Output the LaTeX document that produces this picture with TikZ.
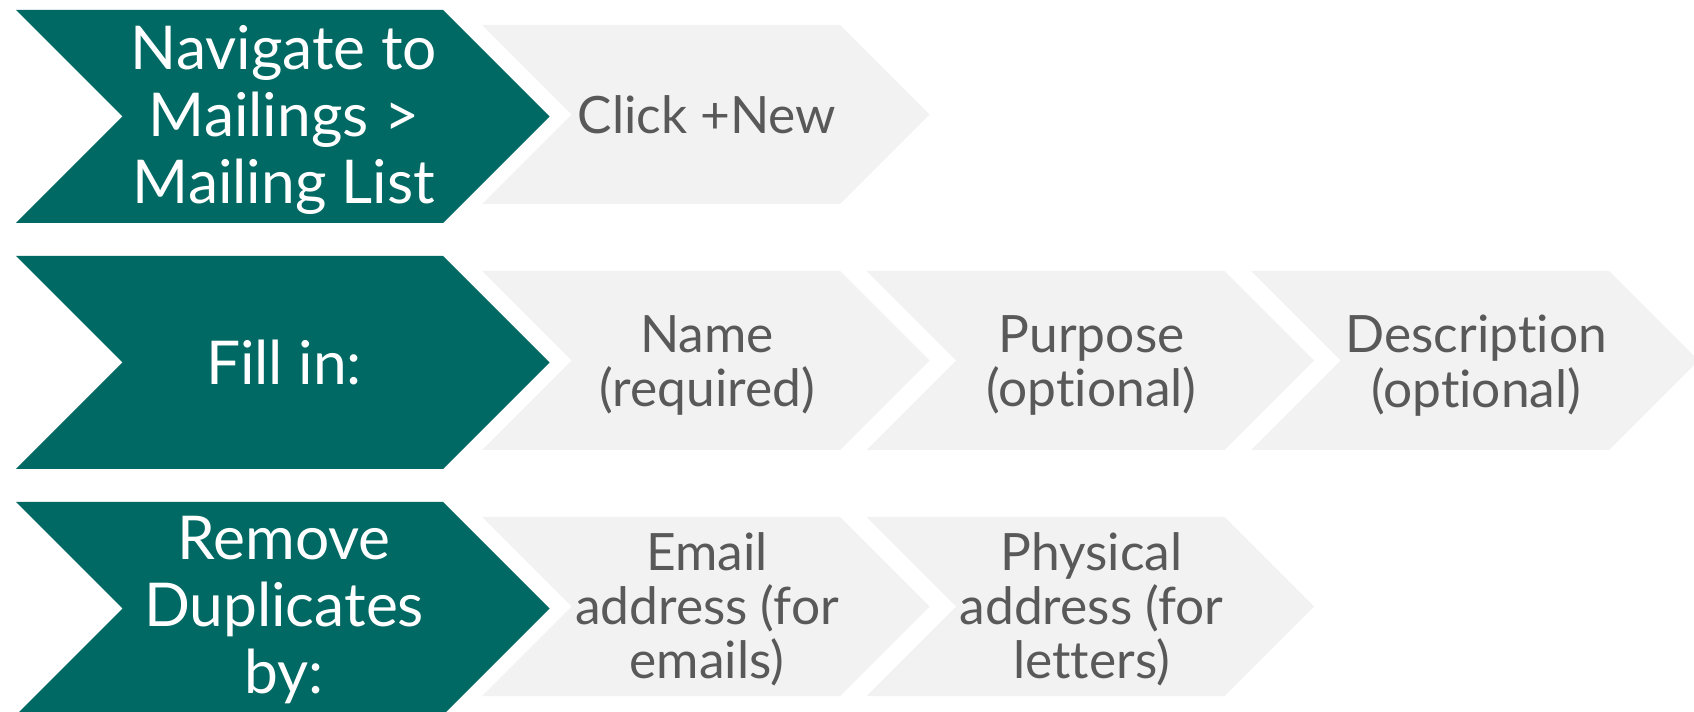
\documentclass[tikz,border=0pt]{standalone}
\usepackage{fontspec}
\setmainfont{Lato}[Ligatures=NoCommon]
\usepackage{xcolor}
\definecolor{headteal}{HTML}{006963}
\definecolor{itemgrey}{HTML}{F2F2F2}
\definecolor{itemtext}{HTML}{595959}
\tikzset{%
    % Chevron outlines, started at the top left corner:
    head-chev/.style = {insert path={-- ++(427,0) -- ++(106.5,106.5) -- ++(-106.5,106.5) -- ++(-427,0) -- ++(106.5,-106.5) -- cycle}},
    item-chev/.style = {insert path={-- ++(358,0) -- ++(89.5,89.5) -- ++(-89.5,89.5) -- ++(-358,0) -- ++(89.5,-89.5) -- cycle}},
    % Specifications for style of texts:
    head-text/.style = {text=white, align=center, inner sep=0pt, font=\fontsize{34.4}{38.2}\selectfont},
    item-text/.style = {text=itemtext, align=center, inner sep=0pt, font=\fontsize{29.3}{30.9}\selectfont}
}

\begin{document}
\begin{tikzpicture}[x=0.02cm, y=-0.02cm]
                \useasboundingbox (0,0) rectangle (1694,712);
                \fill[headteal] (16,10) [head-chev];
                \fill[headteal] (16,256) [head-chev];
                \fill[headteal] (16,502) [head-chev];
                \fill[itemgrey] (482,25) [item-chev];
                \fill[itemgrey] (482,271) [item-chev];
                \fill[itemgrey] (866.6,271) [item-chev];
                \fill[itemgrey] (1251.2,271) [item-chev];
                \fill[itemgrey] (482,517) [item-chev];
                \fill[itemgrey] (866.6,517) [item-chev];
                \node[head-text] (nav) at (284,120) {Navigate to\\Mailings >\\Mailing List};
                \node[head-text] (fill) at (284,362.5) {Fill in:};
                \node[head-text] (dup) at (284,610) {Remove\\Duplicates\\by:};
                \node[item-text] (click) at (707,114.5) {Click +New};
                \node[item-text] (name) at (707,365.5) {Name\\(required)};
                \node[item-text] (purpose) at (1091.6,365.5) {Purpose\\(optional)};
                \node[item-text] (descr) at (1476.2,365.5) {Description\\(optional)};
                \node[item-text] (email) at (707,609.5) {Email\\address (for\\emails)};
                \node[item-text] (phys) at (1091.6,609.5) {Physical\\address (for\\letters)};
            \end{tikzpicture}
\end{document}
